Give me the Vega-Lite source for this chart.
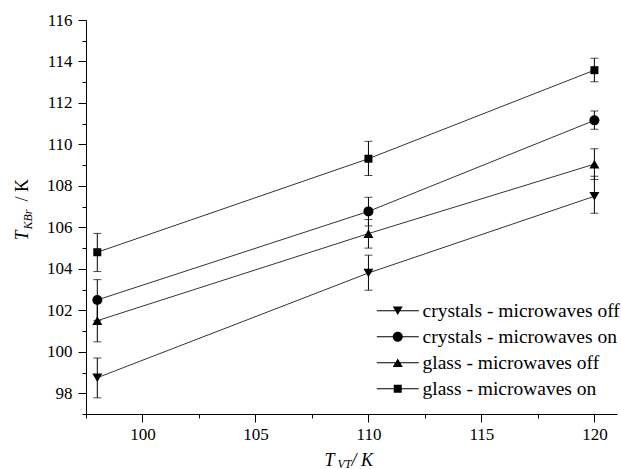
{
  "$schema": "https://vega.github.io/schema/vega-lite/v6.json",
  "width": 531,
  "height": 394,
  "autosize": "none",
  "padding": {"left": 86, "top": 20, "right": 4, "bottom": 55},
  "background": "white",
  "config": {
    "view": {"stroke": null},
    "axis": {
      "labelFont": "Liberation Serif, Times New Roman, serif",
      "labelFontSize": 17,
      "labelColor": "black",
      "domainColor": "black",
      "domainWidth": 1,
      "tickColor": "black",
      "tickWidth": 1,
      "titleFont": "Liberation Serif, Times New Roman, serif",
      "titleColor": "black",
      "titleFontWeight": "normal",
      "grid": false
    },
    "legend": {
      "labelFont": "Liberation Serif, Times New Roman, serif"
    }
  },
  "data": {
    "values": [
      {"series": "crystals - microwaves off", "x": 98, "y": 98.75, "lo": 97.78, "hi": 99.7},
      {"series": "crystals - microwaves off", "x": 110, "y": 103.8, "lo": 102.97, "hi": 104.66},
      {"series": "crystals - microwaves off", "x": 120, "y": 107.5, "lo": 106.68, "hi": 108.47},
      {"series": "crystals - microwaves on", "x": 98, "y": 102.5, "lo": 101.5, "hi": 103.48},
      {"series": "crystals - microwaves on", "x": 110, "y": 106.77, "lo": 106.07, "hi": 107.45},
      {"series": "crystals - microwaves on", "x": 120, "y": 111.16, "lo": 110.73, "hi": 111.61},
      {"series": "glass - microwaves off", "x": 98, "y": 101.5, "lo": 100.48, "hi": 102.5},
      {"series": "glass - microwaves off", "x": 110, "y": 105.7, "lo": 105.0, "hi": 106.38},
      {"series": "glass - microwaves off", "x": 120, "y": 109.05, "lo": 108.31, "hi": 109.79},
      {"series": "glass - microwaves on", "x": 98, "y": 104.8, "lo": 103.87, "hi": 105.71},
      {"series": "glass - microwaves on", "x": 110, "y": 109.31, "lo": 108.5, "hi": 110.15},
      {"series": "glass - microwaves on", "x": 120, "y": 113.58, "lo": 113.02, "hi": 114.15}
    ]
  },
  "resolve": {"axis": {"x": "independent", "y": "independent"}, "scale": {"shape": "independent"}},
  "layer": [
    {
      "mark": {"type": "line", "color": "#333333", "strokeWidth": 1},
      "encoding": {
        "x": {
          "field": "x", "type": "quantitative",
          "scale": {"domain": [97.5, 121], "nice": false, "zero": false},
          "axis": {
            "orient": "bottom", "values": [100, 105, 110, 115, 120], "tickSize": 8, "labelPadding": 4,
            "labelFont": "Liberation Serif, Times New Roman, serif", "labelFontSize": 17,
            "title": "T", "titleFont": "Liberation Serif, Times New Roman, serif", "titleFontStyle": "italic", "titleFontSize": 18,
            "titleX": 238, "titleY": 51, "titleAlign": "left", "titleBaseline": "alphabetic", "titleAngle": 0
          }
        },
        "y": {
          "field": "y", "type": "quantitative",
          "scale": {"domain": [97, 116], "nice": false, "zero": false},
          "axis": {
            "orient": "left", "values": [98, 100, 102, 104, 106, 108, 110, 112, 114, 116], "tickSize": 8, "labelPadding": 6,
            "labelFont": "Liberation Serif, Times New Roman, serif", "labelFontSize": 17,
            "title": "T", "titleFont": "Liberation Serif, Times New Roman, serif", "titleFontStyle": "italic", "titleFontSize": 18,
            "titleX": -59, "titleY": 220, "titleAlign": "left", "titleBaseline": "alphabetic", "titleAngle": -90
          }
        },
        "detail": {"field": "series"}
      }
    },
    {
      "mark": {"type": "rule", "color": "black", "strokeWidth": 1},
      "encoding": {
        "x": {
          "field": "x", "type": "quantitative",
          "scale": {"domain": [97.5, 121], "nice": false, "zero": false},
          "axis": {
            "orient": "bottom", "values": [97.5, 102.5, 107.5, 112.5, 117.5], "tickSize": 4, "labels": false, "domain": false,
            "title": "VT", "titleFont": "Liberation Serif, Times New Roman, serif", "titleFontStyle": "italic", "titleFontSize": 12,
            "titleX": 251, "titleY": 53, "titleAlign": "left", "titleBaseline": "alphabetic", "titleAngle": 0
          }
        },
        "y": {
          "field": "lo", "type": "quantitative",
          "scale": {"domain": [97, 116], "nice": false, "zero": false},
          "axis": {
            "orient": "left", "values": [97, 99, 101, 103, 105, 107, 109, 111, 113, 115], "tickSize": 4, "labels": false, "domain": false,
            "title": "KBr", "titleFont": "Liberation Serif, Times New Roman, serif", "titleFontStyle": "italic", "titleFontSize": 12,
            "titleX": -55, "titleY": 209, "titleAlign": "left", "titleBaseline": "alphabetic", "titleAngle": -90
          }
        },
        "y2": {"field": "hi"}
      }
    },
    {
      "mark": {"type": "tick", "orient": "horizontal", "color": "black", "size": 8, "thickness": 1},
      "encoding": {
        "x": {
          "field": "x", "type": "quantitative",
          "scale": {"domain": [97.5, 121], "nice": false, "zero": false},
          "axis": {
            "orient": "bottom", "ticks": false, "labels": false, "domain": false,
            "title": "/ K", "titleFont": "Liberation Serif, Times New Roman, serif", "titleFontStyle": "italic", "titleFontSize": 18,
            "titleX": 265, "titleY": 51, "titleAlign": "left", "titleBaseline": "alphabetic", "titleAngle": 0
          }
        },
        "y": {
          "field": "lo", "type": "quantitative",
          "scale": {"domain": [97, 116], "nice": false, "zero": false},
          "axis": {
            "orient": "left", "ticks": false, "labels": false, "domain": false,
            "title": "/ K", "titleFont": "Liberation Serif, Times New Roman, serif", "titleFontStyle": "normal", "titleFontSize": 18,
            "titleX": -59, "titleY": 181, "titleAlign": "left", "titleBaseline": "alphabetic", "titleAngle": -90
          }
        }
      }
    },
    {
      "mark": {"type": "tick", "orient": "horizontal", "color": "black", "size": 8, "thickness": 1},
      "encoding": {
        "x": {"field": "x", "type": "quantitative", "scale": {"domain": [97.5, 121], "nice": false, "zero": false}, "axis": null},
        "y": {"field": "hi", "type": "quantitative", "scale": {"domain": [97, 116], "nice": false, "zero": false}, "axis": null}
      }
    },
    {
      "mark": {"type": "point", "filled": true, "size": 100, "color": "black", "opacity": 1, "strokeWidth": 0},
      "encoding": {
        "x": {"field": "x", "type": "quantitative", "scale": {"domain": [97.5, 121], "nice": false, "zero": false}, "axis": null},
        "y": {"field": "y", "type": "quantitative", "scale": {"domain": [97, 116], "nice": false, "zero": false}, "axis": null},
        "shape": {
          "field": "series", "type": "nominal",
          "scale": {
            "domain": ["crystals - microwaves off", "crystals - microwaves on", "glass - microwaves off", "glass - microwaves on"],
            "range": ["triangle-down", "circle", "triangle-up", "M-0.8,-0.8H0.8V0.8H-0.8Z"]
          },
          "legend": null
        }
      }
    },
    {
      "transform": [{"filter": "datum.x > 1000"}],
      "mark": {"type": "point", "filled": true, "color": "black", "strokeWidth": 0, "size": 100, "opacity": 1},
      "encoding": {
        "x": {"field": "x", "type": "quantitative", "scale": {"domain": [97.5, 121], "nice": false, "zero": false}, "axis": null},
        "y": {"field": "y", "type": "quantitative", "scale": {"domain": [97, 116], "nice": false, "zero": false}, "axis": null},
        "shape": {
          "field": "series", "type": "nominal",
          "scale": {
            "domain": ["crystals - microwaves off", "crystals - microwaves on", "glass - microwaves off", "glass - microwaves on"],
            "range": [
              "M-4.2,-0.1H4.2V0.1H-4.2ZM0,0.866L-1,-0.866L1,-0.866Z",
              "M-4.2,-0.1H4.2V0.1H-4.2ZM1,0A1,1,0,1,1,-1,0A1,1,0,1,1,1,0Z",
              "M-4.2,-0.1H4.2V0.1H-4.2ZM0,-0.866L1,0.866L-1,0.866Z",
              "M-4.2,-0.1H4.2V0.1H-4.2ZM-0.8,-0.8H0.8V0.8H-0.8Z"
            ]
          },
          "legend": {
            "title": null, "orient": "none", "legendX": 302, "legendY": 281,
            "labelFont": "Liberation Serif, Times New Roman, serif", "labelFontSize": 19.5, "labelColor": "black", "labelLimit": 400,
            "labelOffset": 15, "rowPadding": 5, "symbolSize": 100,
            "symbolFillColor": "black", "symbolOpacity": 1
          }
        }
      }
    }
  ]
}
